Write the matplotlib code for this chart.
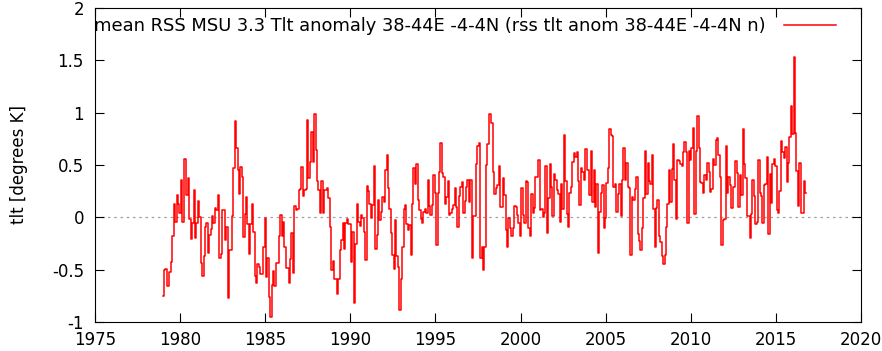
import numpy as np
import matplotlib
matplotlib.use("Agg")
import matplotlib.pyplot as plt

# monthly RSS MSU 3.3 TLT anomaly, 38-44E -4-4N, starting Jan 1979
start_year = 1979
tlt_1979_1989 = [
    -0.75, -0.50, -0.49, -0.66, -0.66, -0.52, -0.43, -0.18, 0.13, -0.04, 0.21, 0.13,
    0.04, 0.36, -0.04, 0.56, 0.56, 0.21, 0.38, -0.02, -0.21, -0.05, 0.26, -0.20,
    -0.05, 0.16, 0.00, -0.44, -0.56, -0.37, -0.09, -0.05, -0.34, -0.17, -0.11, 0.01,
    -0.05, 0.09, 0.07, 0.21, -0.39, -0.35, 0.07, 0.07, -0.22, -0.09, -0.77, -0.31,
    -0.31, 0.01, 0.47, 0.92, 0.66, 0.45, 0.22, 0.48, 0.39, -0.19, 0.03, 0.19,
    -0.06, -0.35, -0.06, 0.13, -0.14, -0.56, -0.63, -0.45, -0.47, -0.54, -0.54, -0.28,
    -0.01, -0.57, -0.39, -0.76, -0.95, -0.65, -0.51, -0.66, -0.44, -0.44, -0.18, 0.02,
    -0.18, -0.04, -0.28, -0.48, -0.48, -0.63, -0.40, -0.15, -0.53, 0.11, 0.07, 0.08,
    0.26, 0.27, 0.48, 0.20, 0.26, 0.27, 0.93, 0.38, 0.53, 0.82, 0.53, 0.99,
    0.64, 0.35, 0.26, 0.04, 0.35, 0.04, 0.26, 0.26, 0.28, 0.18, -0.09, -0.50,
    -0.42, -0.59, -0.59, -0.73, -0.59, -0.31, -0.22, -0.05, -0.30, -0.05, -0.02, -0.06,
]
tlt_1990_2000 = [
    -0.06, -0.43, -0.14, -0.82, -0.25, 0.13, -0.04, -0.08, 0.02, -0.01, -0.14, -0.41,
    0.30, 0.25, 0.13, -0.01, 0.12, 0.49, -0.30, -0.17, 0.17, -0.03, 0.05, 0.19,
    0.15, 0.45, 0.60, 0.28, 0.08, -0.15, -0.36, -0.49, -0.03, -0.37, -0.47, -0.89,
    -0.59, -0.28, 0.08, 0.12, -0.06, -0.12, -0.07, -0.36, 0.13, 0.47, 0.32, 0.51,
    0.17, 0.07, -0.02, -0.05, 0.05, 0.08, 0.04, 0.36, 0.11, 0.02, 0.12, 0.40,
    0.23, -0.26, 0.23, 0.43, 0.71, 0.42, 0.39, 0.13, 0.19, 0.35, 0.02, 0.04,
    0.08, 0.12, 0.28, 0.10, -0.09, 0.20, 0.29, 0.34, 0.04, 0.16, 0.29, 0.36,
    0.15, 0.36, -0.39, 0.01, 0.01, 0.51, 0.68, 0.71, -0.39, -0.28, -0.50, -0.28,
    0.50, 0.70, 0.99, 0.99, 0.90, 0.43, 0.22, 0.28, 0.31, 0.49, 0.10, 0.10,
    0.38, 0.21, -0.12, -0.28, -0.01, -0.10, -0.18, -0.10, 0.11, 0.10, 0.02, -0.05,
    -0.18, 0.28, 0.02, -0.05, 0.35, 0.34, -0.10, -0.18, 0.22, 0.04, 0.09, 0.39,
    0.39, 0.55, 0.07, 0.08, 0.00, 0.04, 0.49, -0.15, 0.18, 0.51, 0.29,
]
tlt_2001_2012 = [
    0.01, 0.41, 0.36, 0.26, 0.22, -0.04, 0.32, 0.08, 0.79, 0.35, 0.03, -0.09,
    0.23, 0.29, 0.53, 0.61, 0.58, 0.62, 0.35, 0.12, 0.47, 0.43, 0.36, 0.65,
    0.45, 0.45, 0.21, 0.63, 0.15, 0.45, 0.10, 0.32, -0.34, 0.05, 0.23, 0.31,
    -0.10, -0.01, 0.33, 0.47, 0.84, 0.79, 0.78, 0.29, 0.32, 0.05, 0.22, 0.32,
    0.01, 0.36, 0.66, 0.36, 0.52, 0.29, 0.28, -0.36, 0.19, 0.17, 0.27, 0.39,
    -0.16, -0.23, -0.31, -0.10, 0.18, 0.63, 0.22, 0.52, 0.35, 0.32, 0.60, 0.08,
    -0.28, 0.09, 0.17, -0.18, -0.24, -0.37, -0.45, -0.36, -0.09, 0.13, 0.45, 0.15,
    0.46, 0.70, 0.36, -0.02, 0.55, 0.54, 0.51, 0.49, 0.62, 0.72, 0.62, -0.05,
    0.63, 0.55, 0.66, 0.85, 0.03, 0.63, 0.97, 0.66, 0.34, 0.33, 0.23, 0.40,
    0.36, 0.52, 0.43, 0.24, 0.27, 0.56, 0.50, 0.74, 0.76, 0.60, 0.39, -0.26,
    -0.03, -0.02, 0.68, 0.23, 0.39, 0.31, 0.09, 0.29, 0.29, 0.54, 0.42, 0.10,
    0.40, 0.21, 0.84, 0.51, 0.38, 0.01, 0.01, -0.20,
]
tlt_2013_2016 = [
    0.03, 0.36, 0.20, -0.06, -0.04, 0.55, 0.23, 0.20, -0.05, 0.31, 0.32, 0.58,
    -0.16, 0.41, 0.14, 0.51, 0.56, 0.49, 0.07, 0.04, 0.25, 0.73, 0.62, 0.57,
    0.67, 0.34, 0.52, 0.77, 1.06, 0.80, 1.53, 0.81, 0.44, 0.11, 0.52, 0.04,
    0.04, 0.35, 0.23,
]
legend_label = "mean RSS MSU 3.3 Tlt anomaly 38-44E -4-4N (rss tlt anom 38-44E -4-4N n)"
x_ticks = [1975, 1980, 1985, 1990, 1995, 2000, 2005, 2010, 2015, 2020]
y_ticks = [-1, -0.5, 0, 0.5, 1, 1.5, 2]

tlt = np.array(tlt_1979_1989 + tlt_1990_2000 + tlt_2001_2012 + tlt_2013_2016)
t = start_year + np.arange(len(tlt)) / 12.0

plt.rcParams['font.family'] = 'DejaVu Sans'
plt.rcParams['axes.unicode_minus'] = False

fig = plt.figure(figsize=(8.82, 3.51), dpi=100)
ax = fig.add_axes([95 / 882, 29 / 351, 766 / 882, 314 / 351])

# zero line
ax.axhline(0, color='#a0a0a0', lw=0.9, ls=(0, (2, 3)), zorder=1)
ax.step(t, tlt, where='mid', color='#ff0000', lw=1.1, label=legend_label, zorder=2)

ax.set_xlim(1975, 2020)
ax.set_ylim(-1, 2)
ax.set_xticks(x_ticks)
ax.set_yticks(y_ticks)
ax.set_yticklabels(['%g' % v for v in y_ticks])
ax.tick_params(direction='in', length=6.5, width=0.8, top=True, right=True,
               labelsize=12)
ax.tick_params(axis='x', pad=6.5)
ax.tick_params(axis='y', pad=8)
for s in ax.spines.values():
    s.set_linewidth(0.8)
ax.set_ylabel('tlt [degrees K]', fontsize=12, labelpad=17)

ax.legend(loc='upper right', bbox_to_anchor=(836 / 882, 1 - 17 / 351),
          bbox_transform=fig.transFigure, frameon=False, markerfirst=False,
          fontsize=12.9, handlelength=2.9, handletextpad=1.0,
          borderpad=0, borderaxespad=0)

fig.savefig('out.png', dpi=100)
